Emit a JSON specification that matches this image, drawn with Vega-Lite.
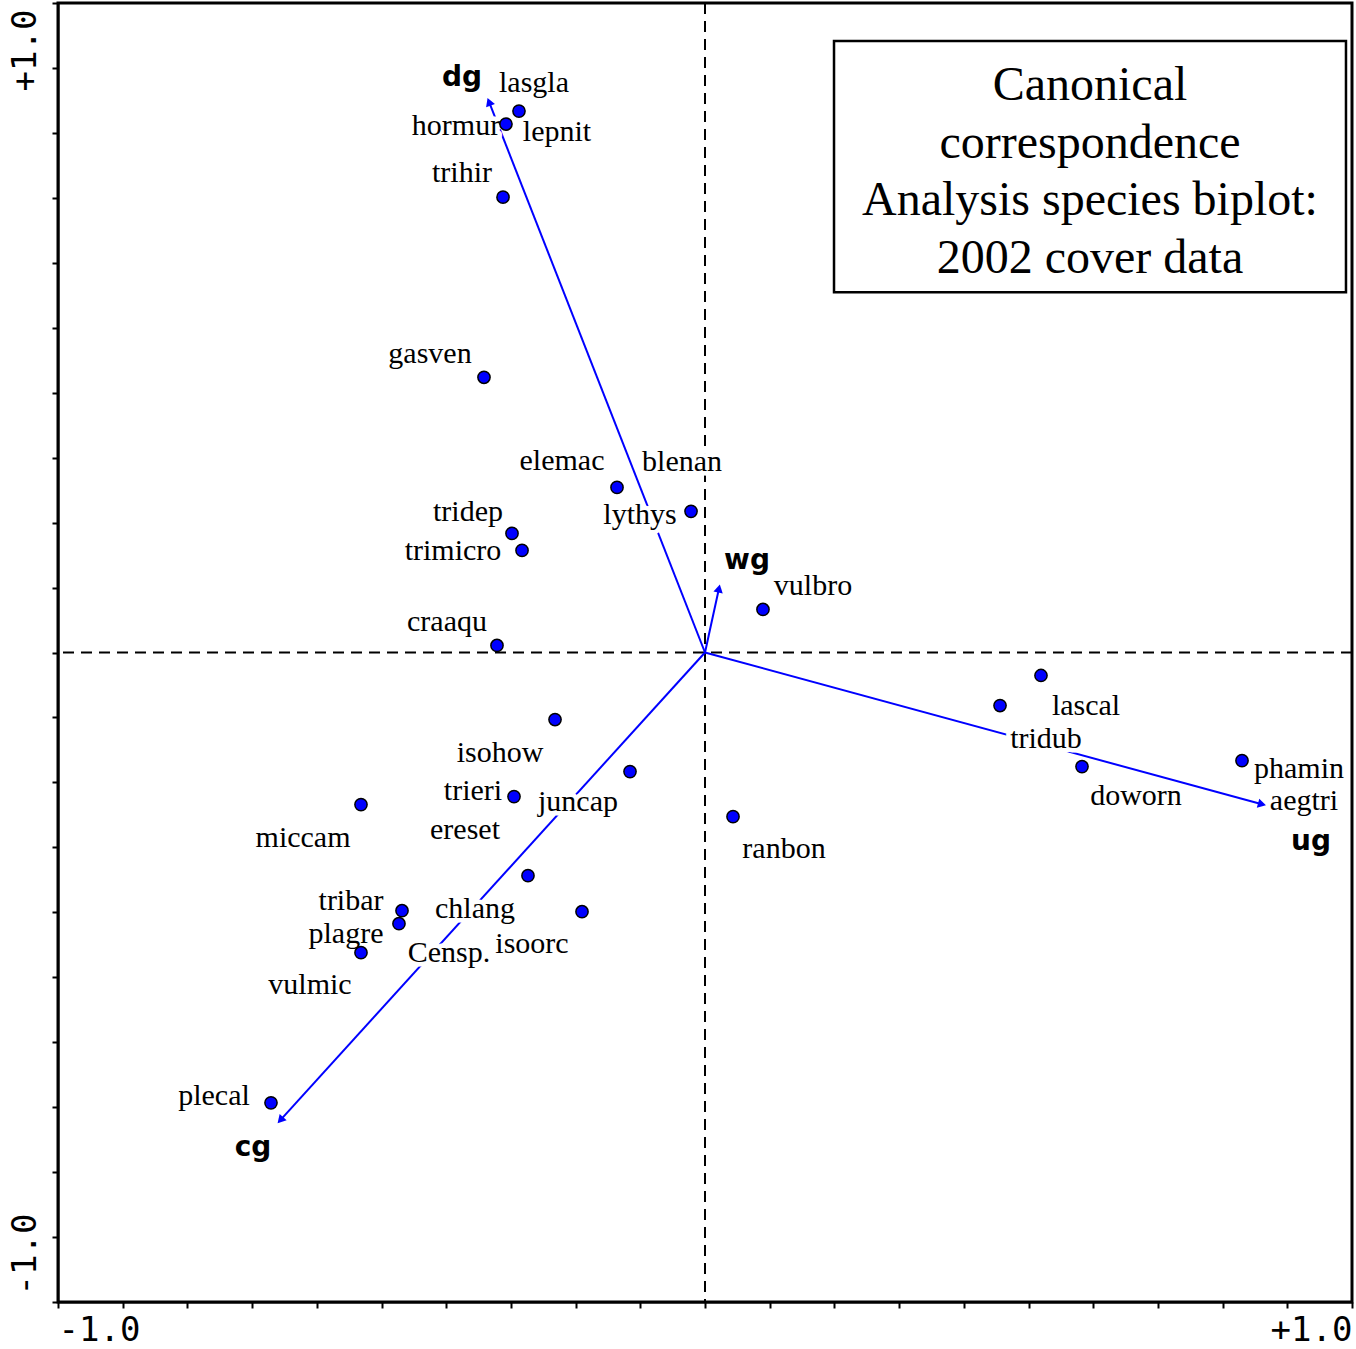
{
  "$schema": "https://vega.github.io/schema/vega-lite/v6.json",
  "width": 1294,
  "height": 1299,
  "autosize": {"type": "none"},
  "padding": {"left": 58, "top": 3, "right": 4, "bottom": 47},
  "background": "white",
  "config": {"view": {"stroke": "#000000", "strokeWidth": 3}},
  "datasets": {
    "species": [
      {"sp": "lasgla", "x": -0.2875, "y": 0.8336, "lx": -0.2643, "ly": 0.8767},
      {"sp": "hormur", "x": -0.3076, "y": 0.8136, "lx": -0.3849, "ly": 0.8105},
      {"sp": "lepnit", "x": null, "y": null, "lx": -0.2287, "ly": 0.8012},
      {"sp": "trihir", "x": -0.3122, "y": 0.7011, "lx": -0.3756, "ly": 0.7381},
      {"sp": "gasven", "x": -0.3416, "y": 0.4237, "lx": -0.425, "ly": 0.4592},
      {"sp": "elemac", "x": -0.136, "y": 0.2542, "lx": -0.221, "ly": 0.2943},
      {"sp": "blenan", "x": null, "y": null, "lx": -0.0355, "ly": 0.2928},
      {"sp": "lythys", "x": -0.0216, "y": 0.2173, "lx": -0.1005, "ly": 0.2111},
      {"sp": "tridep", "x": -0.2983, "y": 0.1834, "lx": -0.3663, "ly": 0.2157},
      {"sp": "trimicro", "x": -0.2828, "y": 0.1572, "lx": -0.3895, "ly": 0.1556},
      {"sp": "craaqu", "x": -0.3215, "y": 0.0108, "lx": -0.3988, "ly": 0.0462},
      {"sp": "vulbro", "x": 0.0896, "y": 0.0663, "lx": 0.1669, "ly": 0.1017},
      {"sp": "lascal", "x": 0.5193, "y": -0.0354, "lx": 0.5889, "ly": -0.0817},
      {"sp": "tridub", "x": 0.456, "y": -0.0817, "lx": 0.527, "ly": -0.1325},
      {"sp": "phamin", "x": 0.83, "y": -0.1664, "lx": 0.9181, "ly": -0.1787},
      {"sp": "doworn", "x": 0.5827, "y": -0.1757, "lx": 0.6661, "ly": -0.2203},
      {"sp": "aegtri", "x": null, "y": null, "lx": 0.9258, "ly": -0.228},
      {"sp": "isohow", "x": -0.2318, "y": -0.1032, "lx": -0.3168, "ly": -0.1541},
      {"sp": "trieri", "x": -0.2952, "y": -0.2219, "lx": -0.3586, "ly": -0.2126},
      {"sp": "juncap", "x": -0.1159, "y": -0.1834, "lx": -0.1963, "ly": -0.2296},
      {"sp": "miccam", "x": -0.5317, "y": -0.2342, "lx": -0.6213, "ly": -0.2851},
      {"sp": "ereset", "x": null, "y": null, "lx": -0.3709, "ly": -0.2727},
      {"sp": "ranbon", "x": 0.0433, "y": -0.2527, "lx": 0.1221, "ly": -0.302},
      {"sp": "chlang", "x": -0.2736, "y": -0.3436, "lx": -0.3555, "ly": -0.3945},
      {"sp": "tribar", "x": -0.4683, "y": -0.3975, "lx": -0.5471, "ly": -0.3821},
      {"sp": "plagre", "x": -0.473, "y": -0.4176, "lx": -0.5549, "ly": -0.433},
      {"sp": "Censp.", "x": null, "y": null, "lx": -0.3957, "ly": -0.4622},
      {"sp": "isoorc", "x": -0.1901, "y": -0.3991, "lx": -0.2674, "ly": -0.4484},
      {"sp": "vulmic", "x": -0.5317, "y": -0.4622, "lx": -0.6105, "ly": -0.5116},
      {"sp": "plecal", "x": -0.6708, "y": -0.6934, "lx": -0.7589, "ly": -0.6826}
    ],
    "env": [
      {"env": "dg", "ax": -0.3338, "ay": 0.8479, "lx": -0.3756, "ly": 0.8844},
      {"env": "wg", "ax": 0.0216, "ay": 0.0986, "lx": 0.0649, "ly": 0.1402},
      {"env": "ug", "ax": 0.8609, "ay": -0.2337, "lx": 0.9366, "ly": -0.2912},
      {"env": "cg", "ax": -0.6563, "ay": -0.72, "lx": -0.6986, "ly": -0.7627}
    ]
  },
  "layer": [
    {
      "data": {"values": [{}]},
      "mark": {"type": "rule", "color": "#000000", "strokeWidth": 2, "strokeDash": [11, 7]},
      "encoding": {
        "y": {
          "datum": 0, "type": "quantitative",
          "scale": {"domain": [-1, 1], "nice": false, "zero": false},
          "axis": {
            "values": [-1, -0.9, -0.8, -0.7, -0.6, -0.5, -0.4, -0.3, -0.2, -0.1, 0, 0.1, 0.2, 0.3, 0.4, 0.5, 0.6, 0.7, 0.8, 0.9, 1],
            "labelExpr": "datum.value == 1 ? '+1.0' : (datum.value == -1 ? '-1.0' : '')",
            "title": null, "grid": false,
            "domainColor": "#000000", "domainWidth": 2,
            "tickColor": "#000000", "tickWidth": 2, "tickSize": 6,
            "labelFont": "DejaVu Sans Mono", "labelFontSize": 34, "labelColor": "#000000",
            "labelAngle": 270,
            "labelAlign": {"condition": {"test": "datum.value > 0", "value": "right"}, "value": "left"},
            "labelOffset": {"condition": {"test": "datum.value > 0", "value": 6}, "value": -7},
            "labelBaseline": "alphabetic",
            "labelPadding": 17,
            "labelOverlap": false, "labelBound": false, "labelFlush": false
          }
        }
      }
    },
    {
      "data": {"values": [{}]},
      "mark": {"type": "rule", "color": "#000000", "strokeWidth": 2, "strokeDash": [11, 7]},
      "encoding": {
        "x": {
          "datum": 0, "type": "quantitative",
          "scale": {"domain": [-1, 1], "nice": false, "zero": false},
          "axis": {
            "values": [-1, -0.9, -0.8, -0.7, -0.6, -0.5, -0.4, -0.3, -0.2, -0.1, 0, 0.1, 0.2, 0.3, 0.4, 0.5, 0.6, 0.7, 0.8, 0.9, 1],
            "labelExpr": "datum.value == 1 ? '+1.0' : (datum.value == -1 ? '-1.0' : '')",
            "title": null, "grid": false,
            "domainColor": "#000000", "domainWidth": 2,
            "tickColor": "#000000", "tickWidth": 2, "tickSize": 6,
            "labelFont": "DejaVu Sans Mono", "labelFontSize": 34, "labelColor": "#000000",
            "labelAngle": 0,
            "labelAlign": {"condition": {"test": "datum.value > 0", "value": "right"}, "value": "left"},
            "labelBaseline": "top",
            "labelPadding": 5,
            "labelOverlap": false, "labelBound": false, "labelFlush": false
          }
        }
      }
    },
    {
      "data": {"name": "env"},
      "mark": {"type": "rule", "color": "#0000ff", "strokeWidth": 2},
      "encoding": {
        "x": {"field": "ax", "type": "quantitative", "title": null},
        "y": {"field": "ay", "type": "quantitative", "title": null},
        "x2": {"datum": 0},
        "y2": {"datum": 0}
      }
    },
    {
      "data": {"name": "env"},
      "mark": {"type": "point", "shape": "triangle-up", "filled": true, "color": "#0000ff", "size": 90, "opacity": 1},
      "encoding": {
        "x": {"field": "ax", "type": "quantitative", "title": null},
        "y": {"field": "ay", "type": "quantitative", "title": null},
        "angle": {"field": "env", "type": "nominal", "scale": {"type": "ordinal", "domain": ["dg", "wg", "ug", "cg"], "range": [338.6, 12.3, 105.2, 222.3]}, "legend": null}
      }
    },
    {
      "data": {"name": "species"},
      "mark": {"type": "text", "font": "Liberation Serif", "fontSize": 30, "align": "center", "baseline": "middle", "fill": "#ffffff", "stroke": "#ffffff", "strokeWidth": 9, "strokeJoin": "round"},
      "encoding": {
        "x": {"field": "lx", "type": "quantitative", "title": null},
        "y": {"field": "ly", "type": "quantitative", "title": null},
        "text": {"field": "sp"}
      }
    },
    {
      "data": {"name": "species"},
      "mark": {"type": "circle", "size": 150, "fill": "#0000ff", "fillOpacity": 1, "stroke": "#000000", "strokeWidth": 1.5},
      "encoding": {
        "x": {"field": "x", "type": "quantitative", "title": null},
        "y": {"field": "y", "type": "quantitative", "title": null}
      }
    },
    {
      "data": {"name": "species"},
      "mark": {"type": "text", "font": "Liberation Serif", "fontSize": 30, "align": "center", "baseline": "middle", "color": "#000000"},
      "encoding": {
        "x": {"field": "lx", "type": "quantitative", "title": null},
        "y": {"field": "ly", "type": "quantitative", "title": null},
        "text": {"field": "sp"}
      }
    },
    {
      "data": {"name": "env"},
      "mark": {"type": "text", "font": "DejaVu Sans", "fontWeight": "bold", "fontSize": 28, "align": "center", "baseline": "middle", "color": "#000000"},
      "encoding": {
        "x": {"field": "lx", "type": "quantitative", "title": null},
        "y": {"field": "ly", "type": "quantitative", "title": null},
        "text": {"field": "env"}
      }
    },
    {
      "data": {"values": [{}]},
      "mark": {"type": "rect", "fill": "#ffffff", "stroke": "#000000", "strokeWidth": 2.5},
      "encoding": {
        "x": {"datum": 0.1994, "type": "quantitative"},
        "x2": {"datum": 0.9907},
        "y": {"datum": 0.9414, "type": "quantitative"},
        "y2": {"datum": 0.5547}
      }
    },
    {
      "data": {"values": [{}]},
      "mark": {"type": "text", "font": "Liberation Serif", "fontSize": 48, "align": "center", "baseline": "alphabetic", "lineHeight": 57.5, "color": "#000000"},
      "encoding": {
        "x": {"datum": 0.595, "type": "quantitative"},
        "y": {"datum": 0.8505, "type": "quantitative"},
        "text": {"value": ["Canonical", "correspondence", "Analysis species biplot:", "2002 cover data"]}
      }
    }
  ]
}
